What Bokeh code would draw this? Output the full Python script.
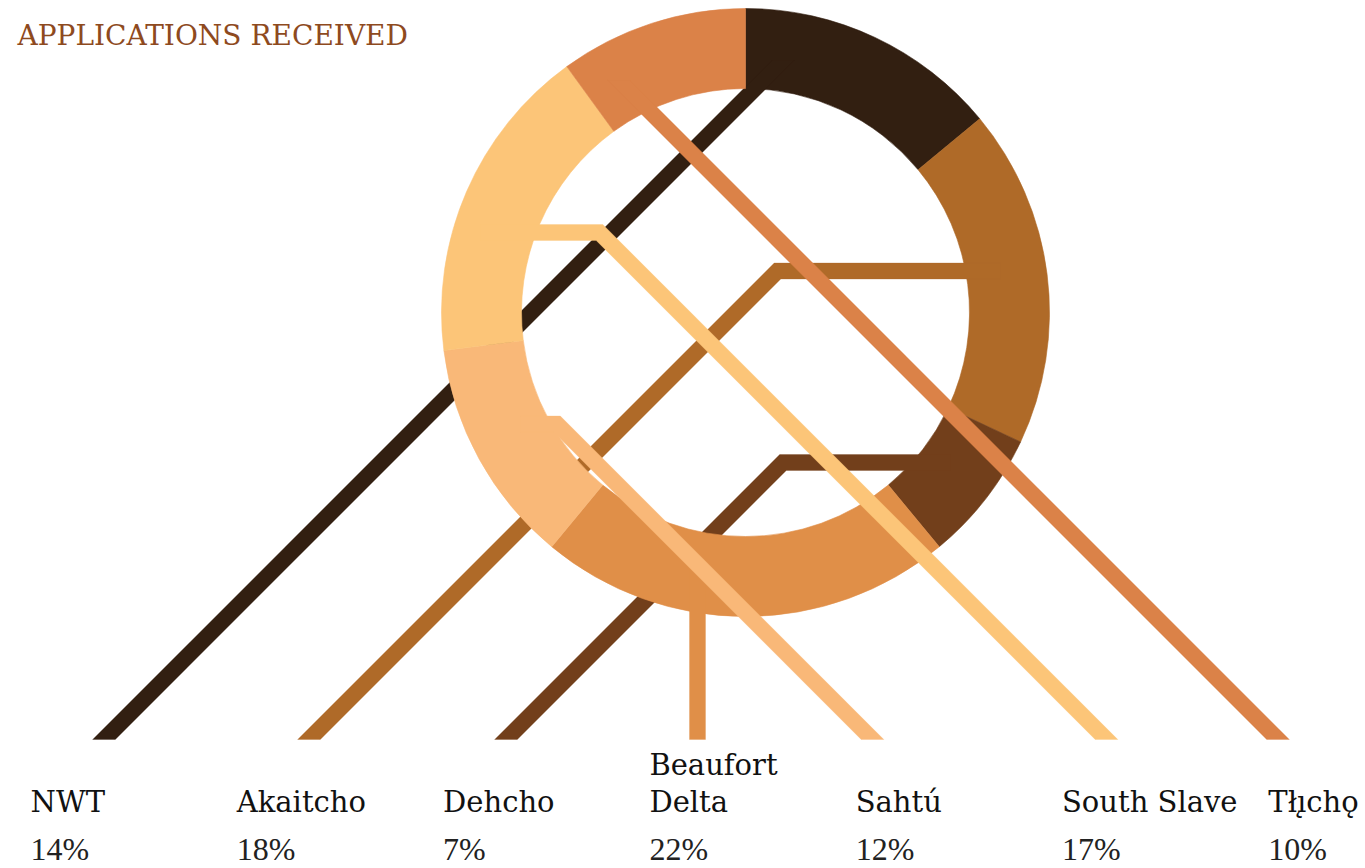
import math
from bokeh.plotting import figure
from bokeh.models import Range1d
from bokeh.embed import file_html
from bokeh.resources import INLINE
from bokeh.core.properties import value

# ---------------- data ----------------
title = "APPLICATIONS RECEIVED"
regions = ["NWT", "Akaitcho", "Dehcho", "Beaufort\nDelta", "Sahtú", "South Slave",
           "T\u0142\u0131\u0328ch\u01eb"]
shares = [14, 18, 7, 22, 12, 17, 10]
colors = ["#321F11", "#AF6A28", "#723F1B", "#E08F48", "#F9B878", "#FCC578", "#DB8248"]

# ---------------- layout (pixels, y measured from top) ----------------
W, H = 1365, 868
CX, CY = 745, 312
R_IN, R_OUT = 224, 304
HALF = 8.0
END_Y = 739
LABEL_X0, LABEL_DX = 30, 206.3
TEXT_SHIFT = 12          # renderer baseline correction
TITLE_BASE = 47 - TEXT_SHIFT
NAME_BASE, NAME_LEAD = 813 - TEXT_SHIFT, 37
PCT_BASE = 861 - TEXT_SHIFT - 1
# leader: (kind, end_x, knee_y or start_y, start_x)
leaders = [
    ("diag", 103.5, 60, None),
    ("knee", 308.5, 270.5, 1000),
    ("knee", 505.5, 462, 950),
    ("vert", 697, 560, None),
    ("knee", 872, 423.5, 520),
    ("knee", 1106, 232, 480),
    ("diag", 1277.5, 80, None),
]

def fy(py):
    return H - py

p = figure(width=W, height=H, x_range=Range1d(0, W), y_range=Range1d(0, H),
           min_border=0, toolbar_location=None, x_axis_location=None,
           y_axis_location=None, output_backend="svg")
p.grid.visible = False
p.outline_line_color = None
p.background_fill_color = "white"

S2 = HALF * math.sqrt(2)
total = float(sum(shares))
cum = 0.0
for i, (share, col) in enumerate(zip(shares, colors)):
    a0 = cum / total * 2 * math.pi
    cum += share
    a1 = cum / total * 2 * math.pi
    p.annular_wedge(x=[CX], y=[fy(CY)], inner_radius=R_IN, outer_radius=R_OUT,
                    start_angle=math.pi / 2 - a0, end_angle=math.pi / 2 - a1,
                    direction="clock", fill_color=col, line_color=col, line_width=0.6)

    kind, ex, ky, sx = leaders[i]
    if kind == "vert":
        xs = [ex - HALF, ex + HALF, ex + HALF, ex - HALF]
        ys = [ky, ky, END_Y, END_Y]
    elif kind == "diag":
        d = -1 if ex < CX else 1
        tx = ex - d * (END_Y - ky)
        xs = [tx - S2, tx + S2, ex + S2, ex - S2]
        ys = [ky, ky, END_Y, END_Y]
    else:
        d = -1 if ex < sx else 1
        kx = ex - d * (END_Y - ky)
        xs = [sx, kx - d * HALF + d * S2, ex + d * S2, ex - d * S2,
              kx + d * HALF - d * S2, sx]
        ys = [ky - HALF, ky - HALF, END_Y, END_Y, ky + HALF, ky + HALF]
    p.patch(x=xs, y=[fy(v) for v in ys], fill_color=col, line_color=col, line_width=0.3)

# title
p.text(x=[17], y=[fy(TITLE_BASE)], text=[title], text_font=value("DejaVu Serif"),
       text_font_size="28px", text_color="#8E4A1E", text_baseline="alphabetic",
       text_align="left")

# labels
for i, (name, share) in enumerate(zip(regions, shares)):
    lx = LABEL_X0 + i * LABEL_DX
    lines = name.split("\n")
    for j, ln in enumerate(lines):
        by = NAME_BASE - (len(lines) - 1 - j) * NAME_LEAD
        p.text(x=[lx], y=[fy(by)], text=[ln], text_font=value("DejaVu Serif"),
               text_font_size="29px", text_color="#111111", text_baseline="alphabetic",
               text_align="left")
    p.text(x=[lx], y=[fy(PCT_BASE)], text=[f"{share}%"], text_font=value("Liberation Serif"),
           text_font_size="32px", text_color="#222222", text_baseline="alphabetic",
           text_align="left")

open("out.html", "w").write(file_html(p, INLINE))
